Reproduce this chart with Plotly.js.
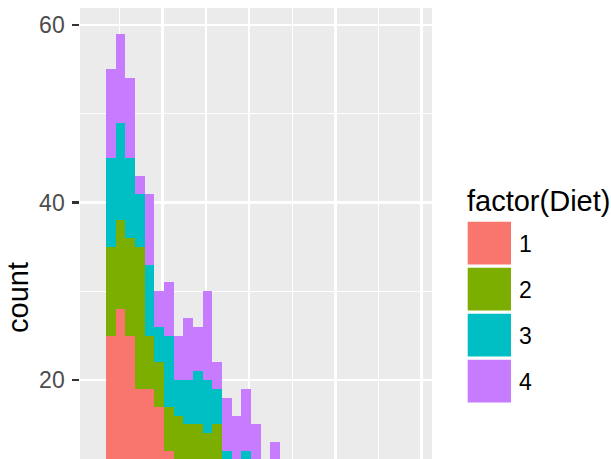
<!DOCTYPE html>
<html>
<head>
<meta charset="utf-8">
<script src="https://cdn.plot.ly/plotly-3.0.1.min.js"></script>
<style>
  html, body { margin: 0; padding: 0; background: #ffffff; overflow: hidden; }
  #chart { width: 611px; height: 459px; }
</style>
</head>
<body>
<div id="chart"></div>
<script>
// ---- data ----
const binCenters = [28.7, 39.9, 51.1, 62.3, 73.5, 84.7, 95.9, 107.1, 118.3, 129.5, 140.7,
  151.9, 163.1, 174.3, 185.5, 196.7, 207.9, 219.1, 230.3, 241.5, 252.7, 263.9, 275.1,
  286.3, 297.5, 308.7, 319.9, 331.1, 342.3, 353.5, 364.7, 375.9, 387.1];
const binWidth = 11.2;
const dietLevels = ["1", "2", "3", "4"];
const diet1 = [4, 25, 28, 25, 19, 19, 17, 12, 9, 8, 7, 6, 6, 4, 3, 3, 3, 2, 2, 2, 1, 1, 1, 0, 1, 0, 0, 0, 0, 0, 0, 0, 0];
const diet2 = [2, 10, 10, 11, 16, 6, 5, 5, 7, 7, 8, 8, 9, 5, 4, 4, 4, 3, 3, 3, 2, 2, 1, 2, 1, 1, 1, 1, 0, 0, 1, 0, 0];
const diet3 = [1, 10, 11, 9, 6, 8, 4, 8, 4, 5, 6, 6, 4, 3, 3, 5, 3, 3, 3, 2, 3, 2, 2, 2, 2, 2, 1, 1, 1, 1, 1, 1, 1];
const diet4 = [1, 10, 10, 9, 2, 8, 4, 6, 5, 7, 5, 10, 3, 6, 6, 7, 5, 2, 5, 3, 3, 2, 3, 2, 1, 1, 1, 0, 1, 0, 0, 0, 0];
const dietColors = ["#F8766D", "#7CAE00", "#00BFC4", "#C77CFF"];
const yTickVals = [20, 40, 60];
const yTickText = ["20", "40", "60"];
const legendTitle = "factor(Diet)";
const yTitle = "count";

// ---- layout geometry (pixels) ----
const W = 611, H = 459;
const PL = 80, PR = 432, PT = 8, PB = 459;
const pw = PR - PL, ph = PB - PT;
const px2x = p => (p - PL) / pw;
const px2y = p => (PB - p) / ph;
const FONT = "Liberation Sans, Arial, Helvetica, sans-serif";

const series = [diet1, diet2, diet3, diet4];
const traces = series.map((vals, i) => ({
  type: "bar",
  x: binCenters,
  y: vals,
  width: binWidth,
  name: dietLevels[i],
  marker: { color: dietColors[i], line: { width: 0 } },
  hoverinfo: "skip",
  showlegend: false
}));

const shapes = [];
const annotations = [];

// y axis title
annotations.push({
  xref: "paper", yref: "paper",
  x: px2x(18), y: px2y(298),
  text: yTitle, textangle: -90, showarrow: false,
  xanchor: "center", yanchor: "middle",
  font: { family: FONT, size: 29, color: "#000000" }
});

// legend title
annotations.push({
  xref: "paper", yref: "paper",
  x: px2x(465), y: px2y(201),
  text: legendTitle, showarrow: false,
  xanchor: "left", yanchor: "middle",
  font: { family: FONT, size: 29, color: "#000000" }
});

// legend keys + labels
const keyTop0 = 221.7, keyPitch = 46, keyH = 42.7, keyL = 467.7, keyR = 511;
dietLevels.forEach((lev, i) => {
  const t = keyTop0 + i * keyPitch;
  shapes.push({
    type: "rect", xref: "paper", yref: "paper",
    x0: px2x(keyL), x1: px2x(keyR), y0: px2y(t + keyH), y1: px2y(t),
    fillcolor: dietColors[i], line: { width: 0 }, layer: "above"
  });
  annotations.push({
    xref: "paper", yref: "paper",
    x: px2x(517), y: px2y(t + keyH / 2 + 1),
    text: lev, showarrow: false,
    xanchor: "left", yanchor: "middle",
    font: { family: FONT, size: 23, color: "#000000" }
  });
});

const layout = {
  width: W, height: H,
  margin: { l: PL, r: W - PR, t: PT, b: H - PB, pad: 0 },
  paper_bgcolor: "#ffffff",
  plot_bgcolor: "#EBEBEB",
  barmode: "stack",
  bargap: 0,
  showlegend: false,
  xaxis: {
    range: [4.2, 411.9],
    tick0: 0, dtick: 100,
    showticklabels: false, ticks: "",
    showgrid: true, gridcolor: "#ffffff", gridwidth: 2.7,
    zeroline: false, showline: false,
    minor: { tick0: 0, dtick: 50, showgrid: true, gridcolor: "#ffffff", gridwidth: 1.3, ticks: "" }
  },
  yaxis: {
    range: [11.1, 61.92],
    tickmode: "array", tickvals: yTickVals, ticktext: yTickText,
    ticks: "outside", ticklen: 6.7, tickwidth: 2.7, tickcolor: "#333333",
    ticklabelstandoff: 3,
    ticklabelshift: -2.5,
    tickfont: { family: FONT, size: 23, color: "#4D4D4D" },
    showgrid: true, gridcolor: "#ffffff", gridwidth: 2.7,
    zeroline: false, showline: false,
    minor: { tick0: 0, dtick: 10, showgrid: true, gridcolor: "#ffffff", gridwidth: 1.3, ticks: "" }
  },
  shapes: shapes,
  annotations: annotations
};

Plotly.newPlot("chart", traces, layout, { staticPlot: true, displayModeBar: false });
</script>
</body>
</html>
